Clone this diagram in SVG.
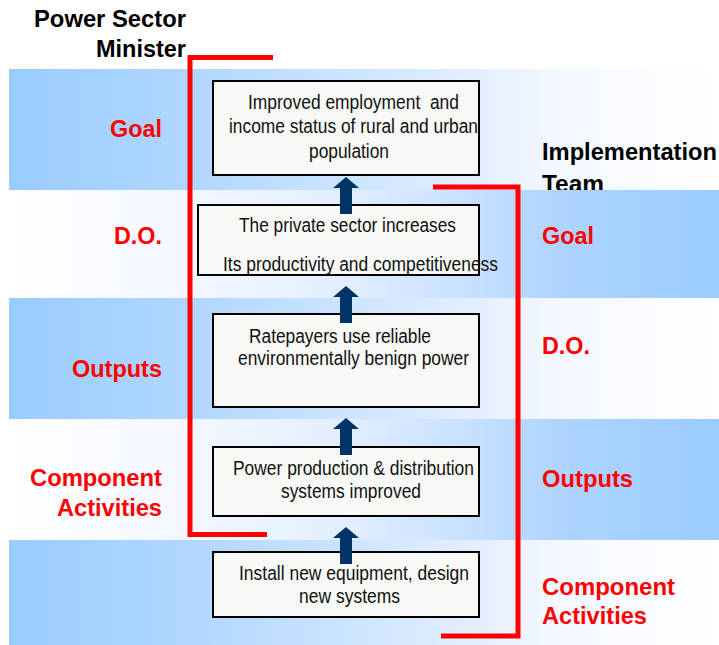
<svg xmlns="http://www.w3.org/2000/svg" width="719" height="645" viewBox="0 0 719 645">
  <defs>
    <linearGradient id="rowA" gradientUnits="userSpaceOnUse" x1="9" y1="0" x2="719" y2="0">
      <stop offset="0" stop-color="#99CCFF"/>
      <stop offset="0.255" stop-color="#B0D7FF"/>
      <stop offset="0.475" stop-color="#CCE4FF"/>
      <stop offset="0.663" stop-color="#E4EFFF"/>
      <stop offset="0.776" stop-color="#F4F8FF"/>
      <stop offset="1" stop-color="#FFFFFF"/>
    </linearGradient>
    <linearGradient id="rowB" gradientUnits="userSpaceOnUse" x1="9" y1="0" x2="719" y2="0">
      <stop offset="0" stop-color="#FFFFFF"/>
      <stop offset="0.255" stop-color="#F2F7FF"/>
      <stop offset="0.475" stop-color="#E2EEFF"/>
      <stop offset="0.663" stop-color="#C4DFFF"/>
      <stop offset="0.776" stop-color="#AED4FF"/>
      <stop offset="1" stop-color="#99CCFF"/>
    </linearGradient>
    <path id="arrow" d="M346 177 L359 188 L352 188 L352 214 L340 214 L340 188 L333 188 Z"/>
  </defs>
  <style>
    .title { font-family: "Liberation Sans", Arial, sans-serif; font-weight: bold; font-size: 23px; fill: #000; }
    .lbl { font-family: "Liberation Sans", Arial, sans-serif; font-weight: bold; font-size: 23px; fill: #FF0000; }
    .box { fill: #F8F8F6; stroke: #000; stroke-width: 2; }
    .bt { font-family: "Liberation Sans Narrow", "Arial Narrow", "Liberation Sans", sans-serif; font-size: 19.5px; fill: #111; }
    .bracket { fill: none; stroke: #FF0000; stroke-width: 5; stroke-linejoin: miter; }
    .arr { fill: #003366; }
  </style>

  <!-- background bands -->
  <rect x="9" y="69" width="710" height="121" fill="url(#rowA)"/>

  <!-- titles -->
  <text class="title" x="186" y="27" text-anchor="end" textLength="152" lengthAdjust="spacingAndGlyphs">Power Sector</text>
  <text class="title" x="186" y="57" text-anchor="end" textLength="90" lengthAdjust="spacingAndGlyphs">Minister</text>
  <text class="title" x="542" y="160" textLength="175" lengthAdjust="spacingAndGlyphs">Implementation</text>
  <text class="title" x="542" y="192" textLength="62" lengthAdjust="spacingAndGlyphs">Team</text>

  <rect x="9" y="190" width="710" height="108" fill="url(#rowB)"/>
  <rect x="9" y="298" width="710" height="121" fill="url(#rowA)"/>
  <rect x="9" y="419" width="710" height="121" fill="url(#rowB)"/>
  <rect x="9" y="540" width="710" height="105" fill="url(#rowA)"/>

  <!-- row labels, left -->
  <text class="lbl" x="162" y="137" text-anchor="end" textLength="52" lengthAdjust="spacingAndGlyphs">Goal</text>
  <text class="lbl" x="162" y="244" text-anchor="end" textLength="48" lengthAdjust="spacingAndGlyphs">D.O.</text>
  <text class="lbl" x="162" y="377" text-anchor="end" textLength="90" lengthAdjust="spacingAndGlyphs">Outputs</text>
  <text class="lbl" x="162" y="486" text-anchor="end" textLength="132" lengthAdjust="spacingAndGlyphs">Component</text>
  <text class="lbl" x="162" y="516" text-anchor="end" textLength="105" lengthAdjust="spacingAndGlyphs">Activities</text>

  <!-- row labels, right -->
  <text class="lbl" x="542" y="244" textLength="52" lengthAdjust="spacingAndGlyphs">Goal</text>
  <text class="lbl" x="542" y="354" textLength="48" lengthAdjust="spacingAndGlyphs">D.O.</text>
  <text class="lbl" x="542" y="487" textLength="91" lengthAdjust="spacingAndGlyphs">Outputs</text>
  <text class="lbl" x="542" y="595" textLength="133" lengthAdjust="spacingAndGlyphs">Component</text>
  <text class="lbl" x="542" y="624" textLength="105" lengthAdjust="spacingAndGlyphs">Activities</text>

  <!-- brackets -->
  <path class="bracket" d="M273 57.5 H190 V534.5 H267"/>
  <path class="bracket" d="M433 187 H518 V636 H441"/>

  <!-- nodes -->
  <g id="node-goal">
    <rect class="box" x="213" y="81" width="266" height="94"/>
    <text class="bt" x="248" y="109" xml:space="preserve" textLength="211" lengthAdjust="spacingAndGlyphs">Improved employment  and</text>
    <text class="bt" x="229" y="133" textLength="249" lengthAdjust="spacingAndGlyphs">income status of rural and urban</text>
    <text class="bt" x="309" y="158" textLength="80" lengthAdjust="spacingAndGlyphs">population</text>
  </g>
  <g id="node-do">
    <rect class="box" x="198" y="205" width="281" height="70"/>
    <text class="bt" x="239" y="232" textLength="217" lengthAdjust="spacingAndGlyphs">The private sector increases</text>
    <text class="bt" x="223" y="271" textLength="275" lengthAdjust="spacingAndGlyphs">Its productivity and competitiveness</text>
  </g>
  <g id="node-outputs">
    <rect class="box" x="213" y="314" width="266" height="93"/>
    <text class="bt" x="249" y="343" textLength="182" lengthAdjust="spacingAndGlyphs">Ratepayers use reliable</text>
    <text class="bt" x="238" y="365" textLength="231" lengthAdjust="spacingAndGlyphs">environmentally benign power</text>
  </g>
  <g id="node-component">
    <rect class="box" x="213" y="447" width="266" height="69"/>
    <text class="bt" x="233" y="475" textLength="241" lengthAdjust="spacingAndGlyphs">Power production &amp; distribution</text>
    <text class="bt" x="281" y="498" textLength="140" lengthAdjust="spacingAndGlyphs">systems improved</text>
  </g>
  <g id="node-activities">
    <rect class="box" x="213" y="552" width="266" height="65"/>
    <text class="bt" x="239" y="580" textLength="230" lengthAdjust="spacingAndGlyphs">Install new equipment, design</text>
    <text class="bt" x="299" y="603" textLength="101" lengthAdjust="spacingAndGlyphs">new systems</text>
  </g>

  <!-- connectors -->
  <g id="connectors" class="arr">
    <use href="#arrow"/>
    <use href="#arrow" transform="translate(0,109)"/>
    <use href="#arrow" transform="translate(0,241)"/>
    <use href="#arrow" transform="translate(0,350)"/>
  </g>
</svg>
